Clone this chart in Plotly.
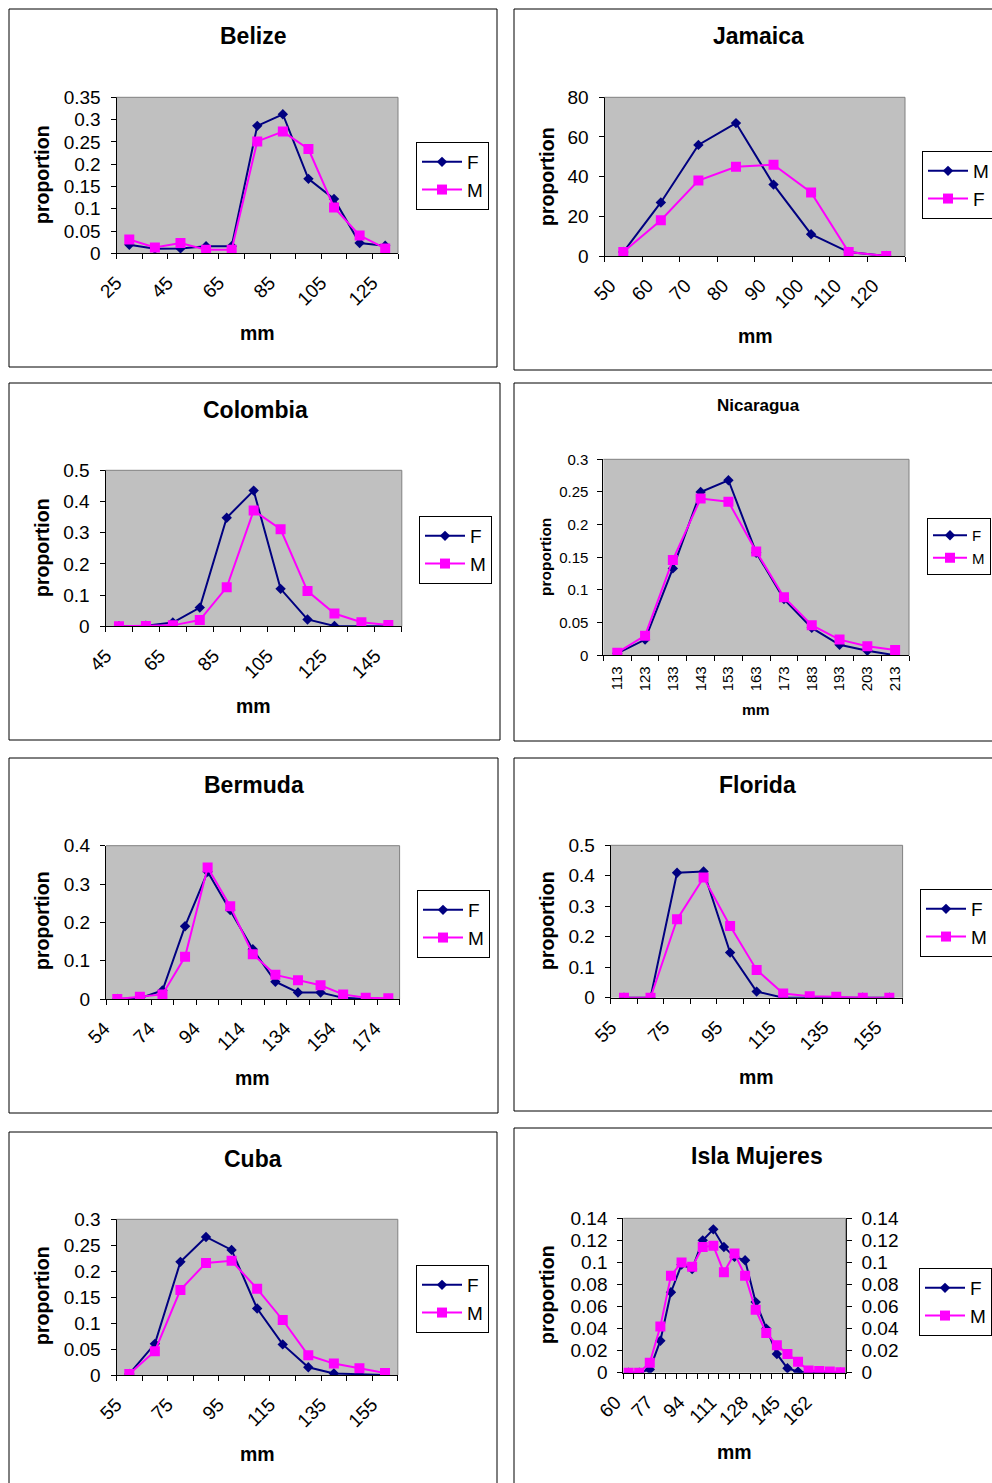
import plotly.graph_objects as go

W, H = 992, 1483
NAVY = "#000080"
MAG = "#FF00FF"
FONT = "Arial, Liberation Sans, Helvetica, sans-serif"

# ---------------- data ----------------
belize_mm = [25, 35, 45, 55, 65, 75, 85, 95, 105, 115, 125]
belize_F = [0.019, 0.010, 0.011, 0.016, 0.016, 0.286, 0.312, 0.167, 0.122, 0.023, 0.017]
belize_M = [0.031, 0.013, 0.023, 0.008, 0.008, 0.251, 0.273, 0.234, 0.103, 0.040, 0.011]

jamaica_mm = [50, 60, 70, 80, 90, 100, 110, 120]
jamaica_M = [2, 27, 56, 67, 36, 11, 2, 0]
jamaica_F = [2, 18, 38, 45, 46, 32, 2, 0]

colombia_mm = [45, 55, 65, 75, 85, 95, 105, 115, 125, 135, 145]
colombia_F = [0.0, 0.002, 0.012, 0.060, 0.348, 0.435, 0.120, 0.022, 0.001, 0.0, 0.0]
colombia_M = [0.0, 0.001, 0.003, 0.020, 0.125, 0.371, 0.311, 0.113, 0.041, 0.013, 0.004]

nicaragua_mm = [113, 123, 133, 143, 153, 163, 173, 183, 193, 203, 213]
nicaragua_F = [0.003, 0.024, 0.133, 0.250, 0.268, 0.157, 0.086, 0.042, 0.016, 0.007, 0.0]
nicaragua_M = [0.004, 0.030, 0.146, 0.240, 0.235, 0.159, 0.089, 0.046, 0.024, 0.014, 0.008]

bermuda_mm = [54, 64, 74, 84, 94, 104, 114, 124, 134, 144, 154, 164, 174]
bermuda_F = [0.0, 0.002, 0.022, 0.190, 0.332, 0.232, 0.130, 0.045, 0.017, 0.017, 0.003, 0.0, 0.0]
bermuda_M = [0.0, 0.006, 0.012, 0.110, 0.343, 0.242, 0.117, 0.063, 0.049, 0.036, 0.012, 0.003, 0.002]

florida_mm = [55, 65, 75, 85, 95, 105, 115, 125, 135, 145, 155]
florida_F = [0.0, 0.0, 0.410, 0.414, 0.148, 0.020, 0.0, 0.0, 0.0, 0.0, 0.0]
florida_M = [0.0, 0.0, 0.257, 0.394, 0.235, 0.091, 0.014, 0.005, 0.003, 0.0, 0.0]

cuba_mm = [55, 65, 75, 85, 95, 105, 115, 125, 135, 145, 155]
cuba_F = [0.002, 0.060, 0.218, 0.266, 0.241, 0.128, 0.059, 0.015, 0.003, 0.001, 0.0]
cuba_M = [0.002, 0.046, 0.164, 0.216, 0.220, 0.166, 0.106, 0.038, 0.022, 0.013, 0.004]

# Isla Mujeres: 21 size classes, every third one labelled
isla_labels = [60, 77, 94, 111, 128, 145, 162]
isla_F = [0.0, 0.0, 0.003, 0.029, 0.073, 0.098, 0.094, 0.120, 0.130, 0.114, 0.105,
          0.102, 0.064, 0.040, 0.017, 0.004, 0.001, 0.0, 0.0, 0.0, 0.0]
isla_M = [0.0, 0.0, 0.009, 0.042, 0.088, 0.100, 0.096, 0.114, 0.115, 0.091, 0.108,
          0.088, 0.057, 0.036, 0.025, 0.017, 0.010, 0.002, 0.0015, 0.001, 0.0005]

# ---------------- panel layout specs (pixels) ----------------
big = dict(tick=19, axt=19.5, title=23, leg=19)
small = dict(tick=15, axt=15.5, title=17, leg=15)

panels = [
    dict(title="Belize", cats=belize_mm, step=2, s=[("F", belize_F), ("M", belize_M)],
         yt=[0, 0.05, 0.1, 0.15, 0.2, 0.25, 0.3, 0.35], ymax=0.35,
         plot=(116.5, 398, 97.3, 253.3), box=(9, 9, 497, 367), tpos=(253, 36),
         ypos=(42, 175), xpos=(257, 333), leg=(416, 142), f=big, angle=-45),
    dict(title="Jamaica", cats=jamaica_mm, step=1, s=[("M", jamaica_M), ("F", jamaica_F)],
         yt=[0, 20, 40, 60, 80], ymax=80,
         plot=(604.5, 905, 97.3, 256), box=(514, 9, 996, 370), tpos=(758, 36),
         ypos=(547, 177), xpos=(755, 336), leg=(922, 151), f=big, angle=-45),
    dict(title="Colombia", cats=colombia_mm, step=2, s=[("F", colombia_F), ("M", colombia_M)],
         yt=[0, 0.1, 0.2, 0.3, 0.4, 0.5], ymax=0.5,
         plot=(105.5, 401.8, 470.3, 626.3), box=(9, 383, 500, 740), tpos=(255, 410),
         ypos=(42, 548), xpos=(253, 706), leg=(419, 516), f=big, angle=-45),
    dict(title="Nicaragua", cats=nicaragua_mm, step=1, s=[("F", nicaragua_F), ("M", nicaragua_M)],
         yt=[0, 0.05, 0.1, 0.15, 0.2, 0.25, 0.3], ymax=0.3,
         plot=(603.4, 909, 459.3, 655.3), box=(514, 383, 996, 741), tpos=(758, 405),
         ypos=(545, 557), xpos=(756, 709), leg=(927, 518), f=small, angle=-90),
    dict(title="Bermuda", cats=bermuda_mm, step=2, s=[("F", bermuda_F), ("M", bermuda_M)],
         yt=[0, 0.1, 0.2, 0.3, 0.4], ymax=0.4,
         plot=(106, 399.6, 845.7, 999), box=(9, 758, 498, 1113), tpos=(254, 785),
         ypos=(42, 921), xpos=(252, 1078), leg=(417, 890), f=big, angle=-45),
    dict(title="Florida", cats=florida_mm, step=2, s=[("F", florida_F), ("M", florida_M)],
         yt=[0, 0.1, 0.2, 0.3, 0.4, 0.5], ymax=0.5,
         plot=(610.7, 902.6, 845.3, 997.7), box=(514, 758, 996, 1111), tpos=(757, 785),
         ypos=(547, 921), xpos=(756, 1077), leg=(920, 889), f=big, angle=-45),
    dict(title="Cuba", cats=cuba_mm, step=2, s=[("F", cuba_F), ("M", cuba_M)],
         yt=[0, 0.05, 0.1, 0.15, 0.2, 0.25, 0.3], ymax=0.3,
         plot=(116.5, 397.8, 1219.3, 1375), box=(9, 1132, 497, 1495), tpos=(253, 1159),
         ypos=(42, 1296), xpos=(257, 1454), leg=(416, 1265), f=big, angle=-45),
    dict(title="Isla Mujeres", cats=isla_labels, step=3, s=[("F", isla_F), ("M", isla_M)],
         yt=[0, 0.02, 0.04, 0.06, 0.08, 0.1, 0.12, 0.14], ymax=0.14,
         plot=(623.3, 845.7, 1218.3, 1372.7), box=(514, 1128, 996, 1495), tpos=(757, 1156),
         ypos=(547, 1295), xpos=(734, 1452), leg=(919, 1268), f=big, angle=-45, right=True),
]


def px(x):
    return x / W


def py(y):
    return 1 - y / H


fig = go.Figure()
layout = dict(width=W, height=H, margin=dict(l=0, r=0, t=0, b=0, autoexpand=False),
              paper_bgcolor="white", plot_bgcolor="#C0C0C0",
              font=dict(family=FONT, color="black"), showlegend=True)
shapes = []
annotations = []

for k, p in enumerate(panels, start=1):
    ax = "" if k == 1 else str(k)
    lg = "legend" if k == 1 else "legend%d" % k
    n = len(p["s"][0][1])
    xs = list(range(n))
    f = p["f"]
    styles = [dict(color=NAVY, symbol="diamond", size=8), dict(color=MAG, symbol="square", size=10)]
    for j, (name, vals) in enumerate(p["s"]):
        st = styles[j]
        fig.add_trace(go.Scatter(
            x=xs, y=vals, name=name, mode="lines+markers", xaxis="x" + ax, yaxis="y" + ax,
            line=dict(color=st["color"], width=2),
            marker=dict(color=st["color"], symbol=st["symbol"], size=st["size"]),
            legend=lg, hoverinfo="skip"))
    x0, x1, y0, y1 = p["plot"]
    idx = list(range(0, n, p["step"]))
    if p["step"] == 3:
        ticktext = [str(v) for v in p["cats"]]
    else:
        ticktext = [str(p["cats"][i]) for i in idx]
    layout["xaxis" + ax] = dict(
        domain=[px(x0), px(x1)], anchor="y" + ax, range=[-0.5, n - 0.5], automargin=False,
        tickmode="array", tickvals=idx, ticktext=ticktext, tickangle=p["angle"],
        ticks="", showline=True, linecolor="black", linewidth=1, showgrid=False, zeroline=False,
        tickfont=dict(size=f["tick"], family=FONT, color="black"),
        ticklabelstandoff=10 if p["angle"] == -45 else 4,
        ticklabelshift=-13 if p["angle"] == -45 else 0,
        minor=dict(tickmode="array", tickvals=[i - 0.5 for i in range(n + 1)], ticks="outside",
                   ticklen=5, tickcolor="black", tickwidth=1, showgrid=False),
        fixedrange=True)
    layout["yaxis" + ax] = dict(
        domain=[py(y1), py(y0)], anchor="x" + ax, range=[0, p["ymax"]], automargin=False,
        tickmode="array", tickvals=p["yt"], ticktext=[("%g" % v) for v in p["yt"]],
        ticks="outside", ticklen=5, tickcolor="black", showline=True, linecolor="black",
        linewidth=1, showgrid=False, zeroline=False, ticklabelstandoff=6,
        tickfont=dict(size=f["tick"], family=FONT, color="black"), fixedrange=True)
    # plot area top/right border
    shapes.append(dict(type="line", xref="paper", yref="paper", x0=px(x0), x1=px(x1),
                       y0=py(y0), y1=py(y0), line=dict(color="#808080", width=1)))
    shapes.append(dict(type="line", xref="paper", yref="paper", x0=px(x1), x1=px(x1),
                       y0=py(y0), y1=py(y1), line=dict(color="#808080", width=1)))
    # chart box
    bx0, by0, bx1, by1 = p["box"]
    shapes.append(dict(type="rect", xref="paper", yref="paper", x0=px(bx0), x1=px(bx1),
                       y0=py(by1), y1=py(by0), line=dict(color="black", width=1)))
    annotations.append(dict(text="<b>%s</b>" % p["title"], x=px(p["tpos"][0]), y=py(p["tpos"][1]),
                            xref="paper", yref="paper", showarrow=False,
                            xanchor="center", yanchor="middle", font=dict(size=f["title"])))
    annotations.append(dict(text="<b>proportion</b>", x=px(p["ypos"][0]), y=py(p["ypos"][1]),
                            xref="paper", yref="paper", showarrow=False, textangle=-90,
                            xanchor="center", yanchor="middle", font=dict(size=f["axt"])))
    annotations.append(dict(text="<b>mm</b>", x=px(p["xpos"][0]), y=py(p["xpos"][1]),
                            xref="paper", yref="paper", showarrow=False,
                            xanchor="center", yanchor="middle", font=dict(size=f["axt"])))
    layout[lg] = dict(x=px(p["leg"][0]), y=py(p["leg"][1]), xanchor="left", yanchor="top",
                      bgcolor="white", bordercolor="black", borderwidth=1,
                      font=dict(size=f["leg"], family=FONT, color="black"),
                      traceorder="normal", itemwidth=40 if f is big else 34)
    if p.get("right"):
        # secondary (mirrored) value axis on the right
        fig.add_trace(go.Scatter(x=xs, y=p["s"][0][1], xaxis="x" + ax, yaxis="y9",
                                 mode="lines", line=dict(width=0, color="rgba(0,0,0,0)"),
                                 showlegend=False, hoverinfo="skip"))
        layout["yaxis9"] = dict(
            overlaying="y" + ax, side="right", anchor="x" + ax, range=[0, p["ymax"]],
            automargin=False,
            tickmode="array", tickvals=p["yt"], ticktext=[("%g" % v) for v in p["yt"]],
            ticks="outside", ticklen=5, tickcolor="black", showline=True, linecolor="black",
            linewidth=1, showgrid=False, zeroline=False, ticklabelstandoff=6,
            tickfont=dict(size=f["tick"], family=FONT, color="black"), fixedrange=True)

layout["shapes"] = shapes
layout["annotations"] = annotations
fig.update_layout(**layout)
fig.write_html("out.html", config={"displayModeBar": False},
               post_script="document.body.style.margin='0px';")
